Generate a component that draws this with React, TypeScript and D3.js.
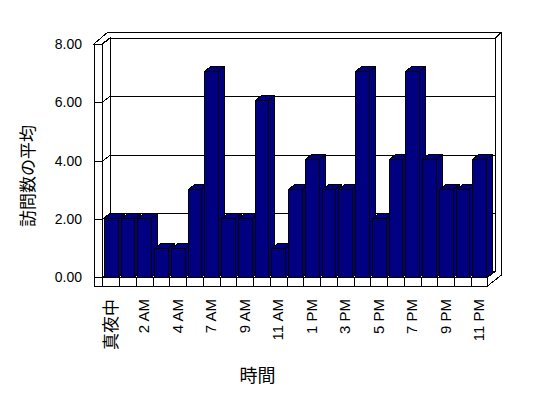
import React from 'react';
import * as d3 from 'd3';

// hours of the day (one hour is absent in the source data)
const hours = [
  '真夜中', '1 AM', '2 AM', '3 AM', '4 AM', '5 AM', '7 AM', '8 AM', '9 AM', '10 AM', '11 AM', '正午',
  '1 PM', '2 PM', '3 PM', '4 PM', '5 PM', '6 PM', '7 PM', '8 PM', '9 PM', '10 PM', '11 PM',
];
const avgVisits = [2, 2, 2, 1, 1, 3, 7, 2, 2, 6, 1, 3, 4, 3, 3, 7, 2, 4, 7, 4, 3, 3, 4];
const yTicks = [0, 2, 4, 6, 8];

const W = 548;
const H = 398;
const FONT = '"Liberation Sans", "Noto Sans CJK JP", sans-serif';
const NAVY = '#000080';

// 3d box layout
const wallOuterX = 94;
const wallInnerX = 102;
const floorTop = 277.3;
const floorBottom = 286;
const plotRight = 487.5;
const depth = { dx: 8, dy: -6 }; // front plane -> back wall
const thick = { dx: 6, dy: -6 }; // back wall thickness
const barDepth = { dx: 6, dy: -5 };

export default function App() {
  const x = d3.scaleBand<string>()
    .domain(hours)
    .range([wallInnerX + 0.5, plotRight])
    .paddingInner(0.17)
    .paddingOuter(0.08);
  const yWall = d3.scaleLinear().domain([0, 8]).range([floorTop, 44]);
  const yBar = d3.scaleLinear().domain([0, 8]).range([floorTop, 41.5]);

  const step = x.step();
  const bw = x.bandwidth();
  const backL = wallInnerX + depth.dx;
  const backR = plotRight + depth.dx;
  const backTop = yWall(8) + depth.dy;
  const backBottom = floorTop + depth.dy;
  const outerTop = backTop + thick.dy;

  const line = { stroke: '#000', strokeWidth: 1, fill: 'none' } as const;
  const face = { stroke: '#000', strokeWidth: 1, fill: '#fff' } as const;

  return (
    <svg width={W} height={H} style={{ position: 'absolute', left: 0, top: 0, background: '#fff' }}
      fontFamily={FONT}>
      <g shapeRendering="crispEdges">
        {/* back wall */}
        <rect x={backL} y={backTop} width={backR - backL} height={backBottom - backTop} {...face} />
        <path {...face}
          d={`M${wallOuterX},${yWall(8)} L${wallInnerX},${yWall(8)} L${backL},${backTop} L${backR},${backTop} L${backR + thick.dx},${outerTop} L${wallOuterX + depth.dx + thick.dx},${outerTop} Z`} />
        <path {...line}
          d={`M${backR + thick.dx},${outerTop} L${backR + thick.dx},${floorBottom - 11} L${plotRight},${floorBottom}`} />
        {/* left wall */}
        <path {...face}
          d={`M${wallInnerX},${yWall(8)} L${backL},${backTop} L${backL},${backBottom} L${wallInnerX},${floorTop} Z`} />
        <rect x={wallOuterX} y={yWall(8)} width={wallInnerX - wallOuterX} height={floorBottom - yWall(8)} {...face} />
        {/* floor */}
        <path {...face}
          d={`M${wallInnerX},${floorTop} L${plotRight},${floorTop} L${backR},${backBottom} L${backL},${backBottom} Z`} />
        <rect x={wallInnerX} y={floorTop} width={plotRight - wallInnerX} height={floorBottom - floorTop} {...face} />
        <line x1={wallOuterX} x2={plotRight} y1={floorBottom} y2={floorBottom} {...line} />
        {hours.slice(1).map((h) => {
          const xd = Math.round(x(h)! - (step - bw) / 2) + 0.5;
          return <line key={h} x1={xd} x2={xd} y1={floorTop} y2={floorBottom} {...line} />;
        })}

        {/* gridlines */}
        {yTicks.map((t) => {
          const yf = Math.round(yWall(t)) + 0.5;
          const yb = Math.round(yWall(t) + depth.dy) + 0.5;
          return (
            <path key={t} {...line}
              d={`M${wallOuterX},${yf} L${wallInnerX},${yf} L${backL},${yb} L${backR},${yb}`} />
          );
        })}

        {/* bars */}
        {avgVisits.map((v, i) => {
          const x0 = Math.round(x(hours[i])!) + 0.5;
          const x1 = Math.round(x(hours[i])! + bw) + 0.5;
          const yt = Math.round(yBar(v)) + 0.5;
          const yb = Math.round(yBar(0)) + 0.5;
          const { dx, dy } = barDepth;
          return (
            <g key={i} fill={NAVY} stroke="#000" strokeWidth={1}>
              <path d={`M${x1},${yt} L${x1 + dx},${yt + dy} L${x1 + dx},${yb + dy} L${x1},${yb} Z`} />
              <path d={`M${x0},${yt} L${x0 + dx},${yt + dy} L${x1 + dx},${yt + dy} L${x1},${yt} Z`} />
              <rect x={x0} y={yt} width={x1 - x0} height={yb - yt} />
            </g>
          );
        })}
      </g>

      {/* y tick labels */}
      {yTicks.map((t) => (
        <text key={t} x={82} y={Math.round(yWall(t))} dy="0.36em" textAnchor="end" fontSize={14} fill="#000">
          {t.toFixed(2)}
        </text>
      ))}

      {/* x tick labels */}
      {hours.map((h, i) => {
        if (i % 2 !== 0) return null;
        const cx = Math.round(x(h)! + bw / 2);
        const cjk = /[^\x00-\x7f]/.test(h);
        return (
          <text key={h} transform={`translate(${cx},299) rotate(-90)`} dy="0.36em"
            textAnchor="end" fontSize={cjk ? 17 : 15} fill="#000">
            {h}
          </text>
        );
      })}

      {/* axis titles */}
      <text transform="translate(28,176) rotate(-90)" dy="0.36em" textAnchor="middle" fontSize={17} fill="#000">
        訪問数の平均
      </text>
      <text x={257.5} y={376} dy="0.36em" textAnchor="middle" fontSize={18} fill="#000">
        時間
      </text>
    </svg>
  );
}
